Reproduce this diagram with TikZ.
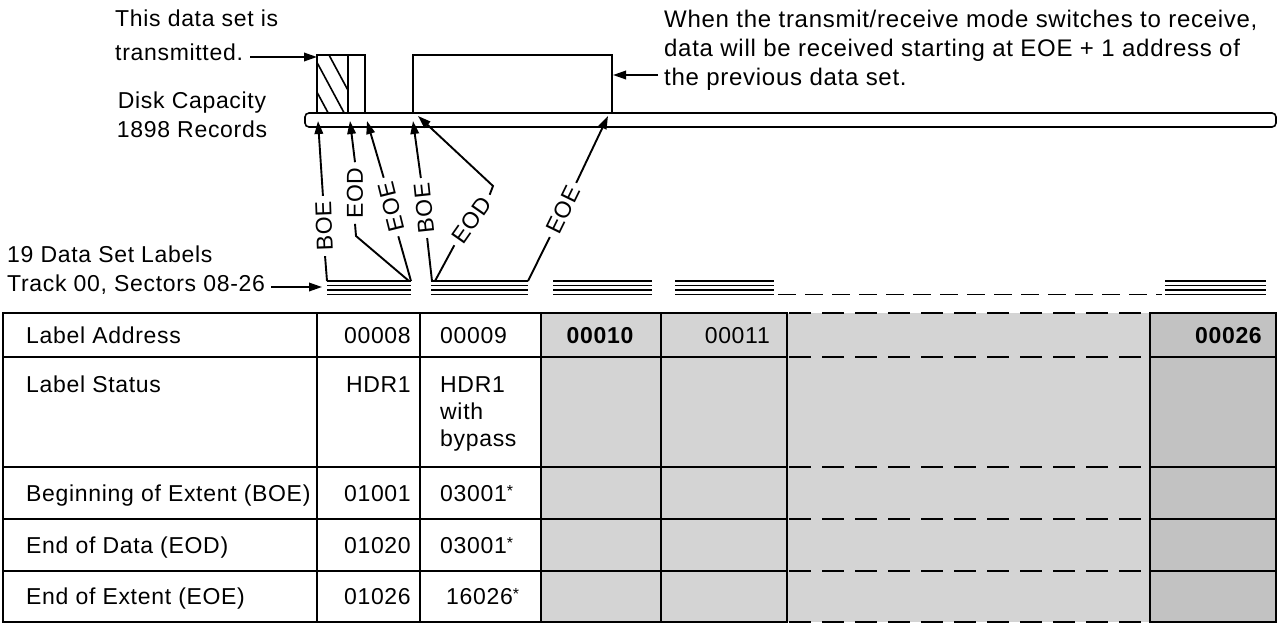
\documentclass[tikz,border=0pt]{standalone}
\usepackage{fontspec}
\setmainfont{Liberation Sans}[LetterSpace=3]
\usetikzlibrary{arrows.meta}
\newcommand\mystar{\raisebox{5pt}{\fontsize{16}{16}\selectfont *}}
\begin{document}
\begin{tikzpicture}[x=1pt,y=-1pt,
  every node/.style={font=\fontsize{23}{27}\selectfont, inner sep=0pt},
  rtext/.style={font=\fontsize{24}{28}\selectfont, anchor=base west},
  ln/.style={line width=1.6pt},
  thk/.style={line width=2.6pt},
  ptr/.style={line width=1.9pt},
  tip/.style={-{Triangle[length=13pt,width=8.5pt]}},
  plab/.style={inner xsep=5pt, inner ysep=0pt},
  grp/.style={line width=1.4pt},
  dsh/.style={line width=2pt, dash pattern=on 22pt off 11pt},
  dshs/.style={line width=1.6pt, dash pattern=on 18pt off 9pt},
  shade/.style={fill=black!17},
  shadedark/.style={fill=black!24},
]
\useasboundingbox (0,0) rectangle (1279,627);

% ---------- top-left text ----------
\node[anchor=base west] (t1) at (115,26) {This data set is};
\node[anchor=base west] (t2) at (115,60) {transmitted.};
\node[anchor=base] (t3) at (192,108) {Disk Capacity};
\node[anchor=base] (t4) at (192,137) {1898 Records};

% ---------- top-right text ----------
\node[rtext] (r1) at (664,27) {When the transmit/receive mode switches to receive,};
\node[rtext] (r2) at (664,56) {data will be received starting at EOE + 1 address of};
\node[rtext] (r3) at (664,85) {the previous data set.};

% ---------- disk bar ----------
\draw[ln, rounded corners=4pt] (305,113) rectangle (1276,127);

% ---------- transmitted data set (hatched) ----------
\begin{scope}
  \clip (317,55) rectangle (348,113);
  \foreach \x in {297,313,329} \draw[ln] (\x,55) -- ++(40,74.4);
\end{scope}
\draw[ln] (317,113) -- (317,55) -- (365,55) -- (365,113);
\draw[ln] (348,55) -- (348,113);

% ---------- receive box ----------
\draw[ln] (413,113) -- (413,55) -- (612,55) -- (612,113);

% ---------- callout arrows ----------
\coordinate (a1s) at (250,57);
\coordinate (a1e) at (317,57);
\draw[ptr,tip] (a1s) -- (a1e);
\coordinate (a2s) at (658,75);
\coordinate (a2e) at (613,75);
\draw[ptr,tip] (a2s) -- (a2e);

% ---------- label groups ----------
\foreach \a/\b in {327/411, 431/528, 553/652, 675/774, 1165/1266}{
  \foreach \y in {281,285.5,290,294.5} \draw[grp] (\a,\y) -- (\b,\y);
}
\coordinate (gd1) at (778,294.5);
\coordinate (gd2) at (1162,294.5);
\draw[dshs] (gd1) -- (gd2);

\node[anchor=base west] (l1) at (7,262) {19 Data Set Labels};
\node[anchor=base west] (l2) at (7,291) {Track 00, Sectors 08-26};
\coordinate (tr1) at (271,287);
\coordinate (tr2) at (322,287);
\draw[ptr,tip] (tr1) -- (tr2);

% ---------- pointer coordinates ----------
\coordinate (b1) at (318,121);
\coordinate (b2) at (350,121);
\coordinate (b3) at (367,121);
\coordinate (b4) at (413,121);
\coordinate (b5) at (418,116);
\coordinate (b6) at (608,116);
\coordinate (g1a) at (327,281);
\coordinate (g1b) at (409,281);
\coordinate (g1c) at (411,281);
\coordinate (g2a) at (432,281);
\coordinate (g2b) at (435,281);
\coordinate (g2c) at (528,281);
\coordinate (k1) at (356,236);
\coordinate (k2) at (493,186);

\node[plab, rotate=92] (boe1) at (324,226) {BOE};
\node[plab, rotate=90] (eod1) at (355,193) {EOD};
\node[plab, rotate=104] (eoe1) at (391,207) {EOE};
\node[plab, rotate=96] (boe2) at (424,208) {BOE};
\node[plab, rotate=55] (eod2) at (472,220) {EOD};
\node[plab, rotate=64] (eoe2) at (563,210) {EOE};

\draw[ptr] (g1a) -- (boe1.west);
\draw[ptr,tip] (boe1.east) -- (b1);
\draw[ptr] (g1b) -- (k1) -- (eod1.west);
\draw[ptr,tip] (eod1.east) -- (b2);
\draw[ptr] (g1c) -- (eoe1.west);
\draw[ptr,tip] (eoe1.east) -- (b3);
\draw[ptr] (g2a) -- (boe2.west);
\draw[ptr,tip] (boe2.east) -- (b4);
\draw[ptr] (g2b) -- (eod2.west);
\draw[ptr,tip] (eod2.east) -- (k2) -- (b5);
\draw[ptr] (g2c) -- (eoe2.west);
\draw[ptr,tip] (eoe2.east) -- (b6);

% ---------- table ----------
\fill[shade] (541,313) rectangle (1150,622);
\fill[shadedark] (1150,313) rectangle (1276,622);
\foreach \y in {313,357,467,519,571,622}{
  \draw[ln] (3,\y) -- (787,\y);
  \draw[ln] (1150,\y) -- (1276,\y);
  \draw[dsh] (789,\y) -- (1148,\y);
}
\foreach \x in {317,420,541,661} \draw[ln] (\x,313) -- (\x,622);
\draw[thk] (3,312) -- (3,623);
\foreach \x in {787,1150,1276} \draw[thk] (\x,312) -- (\x,623);

% row 1
\node[anchor=base west] (c11) at (26,343) {Label Address};
\node[anchor=base east] (c12) at (411,343) {00008};
\node[anchor=base west] (c13) at (440,343) {00009};
\node[anchor=base] (c14) at (600,343) {\bfseries 00010};
\node[anchor=base east] (c15) at (770,343) {00011};
\node[anchor=base east] (c17) at (1262,343) {\bfseries 00026};
% row 2
\node[anchor=base west] (c21) at (26,392) {Label Status};
\node[anchor=base east] (c22) at (411,392) {HDR1};
\node[anchor=base west] (c23) at (440,392) {HDR1};
\node[anchor=base west] (c23b) at (440,419) {with};
\node[anchor=base west] (c23c) at (440,446) {bypass};
% row 3
\node[anchor=base west] (c31) at (26,501) {Beginning of Extent (BOE)};
\node[anchor=base east] (c32) at (411,501) {01001};
\node[anchor=base west] (c33) at (440,501) {03001\mystar};
% row 4
\node[anchor=base west] (c41) at (26,553) {End of Data (EOD)};
\node[anchor=base east] (c42) at (411,553) {01020};
\node[anchor=base west] (c43) at (440,553) {03001\mystar};
% row 5
\node[anchor=base west] (c51) at (26,604) {End of Extent (EOE)};
\node[anchor=base east] (c52) at (411,604) {01026};
\node[anchor=base west] (c53) at (446,604) {16026\mystar};
\end{tikzpicture}
\end{document}
